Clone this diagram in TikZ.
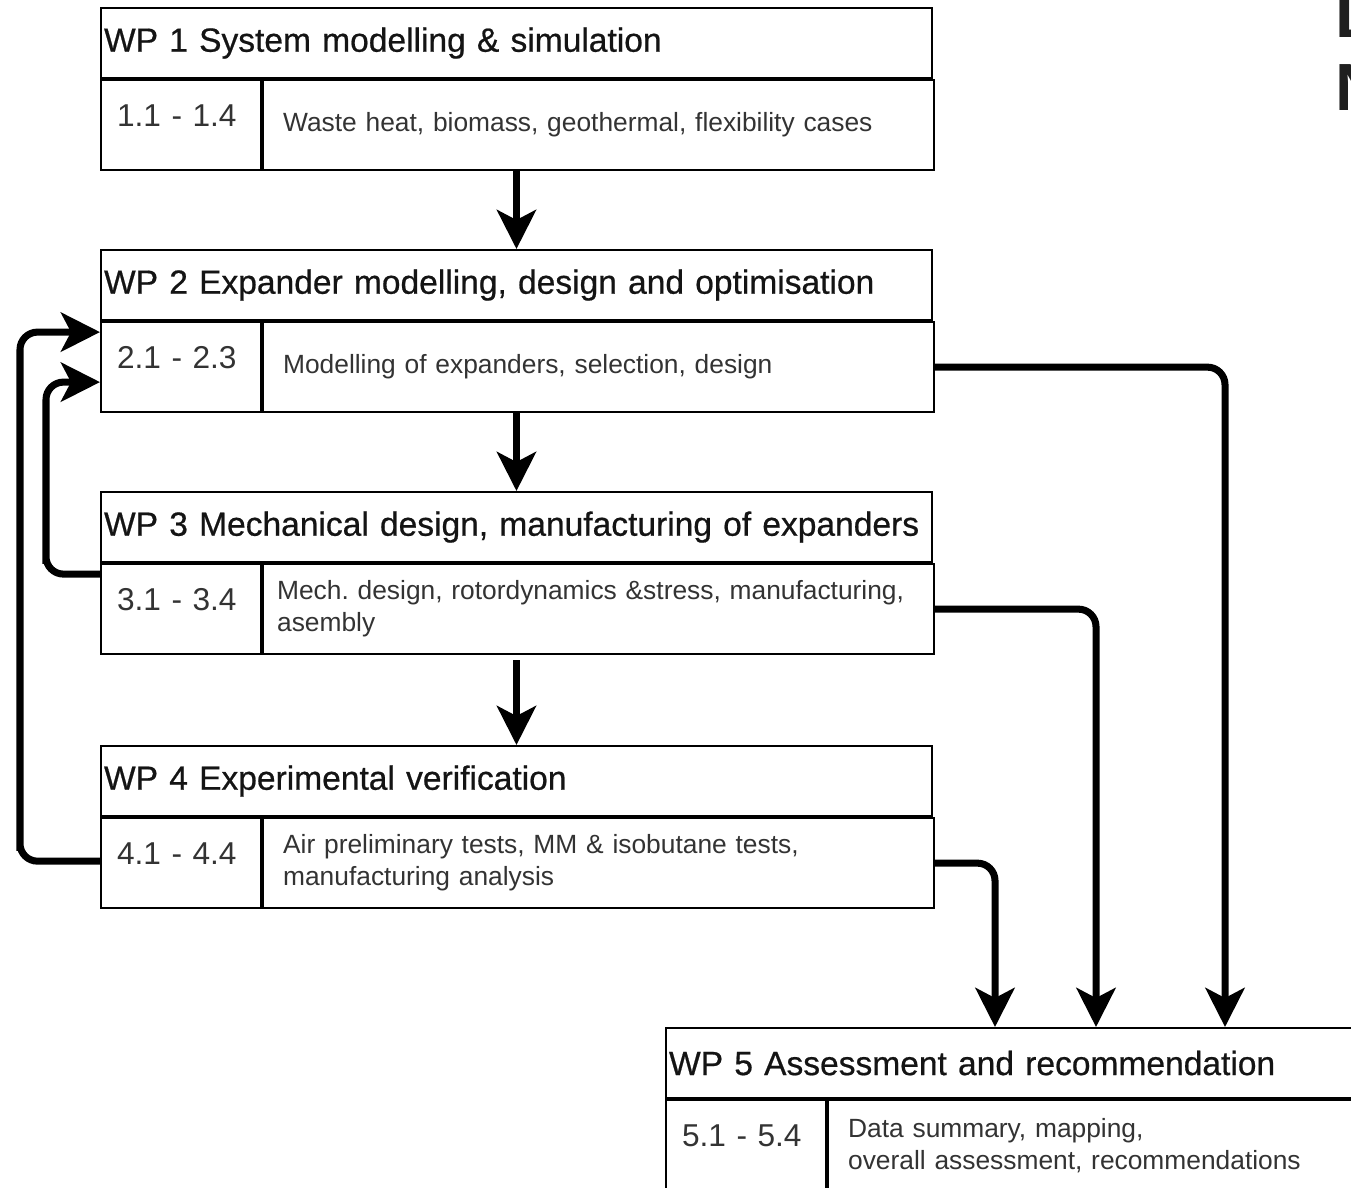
\documentclass[tikz,border=0pt]{standalone}
\usepackage{fontspec}
\setmainfont{Liberation Sans}
\newfontfamily\headfont[FakeBold=0.6]{Liberation Sans}
\usetikzlibrary{arrows.meta,calc,positioning}

\tikzset{
  wphead/.style={draw, line width=1.2pt, anchor=north west, minimum width=16.62cm,
    minimum height=1.4cm, inner xsep=0.06cm, text width=16.5cm, align=left,
    font=\headfont\fontsize{19.1}{22}\selectfont, text=black!92},
  wpnum/.style={draw, line width=1.2pt, anchor=north west, minimum width=3.2cm,
    minimum height=1.8cm, inner xsep=0.32cm, text width=2.56cm, align=left,
    text height=0.44cm, text depth=0.4cm,
    font=\fontsize{18}{22}\selectfont, text=black!80},
  wpdesc/.style={draw, line width=1.2pt, anchor=north west, minimum width=13.42cm,
    minimum height=1.8cm, inner xsep=0.4cm, text width=12.62cm, align=left,
    font=\fontsize{15}{18.2}\selectfont\frenchspacing, text=black!80},
  flow/.style={line width=4pt, rounded corners=0.35cm,
    -{Stealth[length=0.78cm,width=0.78cm,inset=0.2cm]}},
}

\begin{document}
\begin{tikzpicture}[x=0.02cm, y=-0.02cm]
        \clip (0,0) rectangle (1351,1187);
        \fill[white] (0,0) rectangle (1351,1187);

        % work packages
        \node[wphead] (wp1) at (100,7) {WP 1 System modelling \& simulation};
        \node[wpnum] (wp1n) at (wp1.south west) {1.1 - 1.4};
        \node[wpdesc] (wp1d) at (wp1n.north east) {Waste heat, biomass, geothermal, flexibility cases};

        \node[wphead] (wp2) at (100,249) {WP 2 Expander modelling, design and optimisation};
        \node[wpnum] (wp2n) at (wp2.south west) {2.1 - 2.3};
        \node[wpdesc] (wp2d) at (wp2n.north east) {Modelling of expanders, selection, design};

        \node[wphead] (wp3) at (100,491) {\mbox{WP 3 Mechanical design, manufacturing of expanders}};
        \node[wpnum] (wp3n) at (wp3.south west) {3.1 - 3.4};
        \node[wpdesc, inner xsep=0.28cm, text width=12.86cm] (wp3d) at (wp3n.north east) {Mech. design, rotordynamics \&stress, manufacturing,\\asembly};

        \node[wphead] (wp4) at (100,745) {WP 4 Experimental verification};
        \node[wpnum] (wp4n) at (wp4.south west) {4.1 - 4.4};
        \node[wpdesc] (wp4d) at (wp4n.north east) {Air preliminary tests, MM \& isobutane tests,\\manufacturing analysis};

        \node[wphead] (wp5) at (665,1027) {WP 5 Assessment and recommendation};
        \node[wpnum] (wp5n) at (wp5.south west) {5.1 - 5.4};
        \node[wpdesc] (wp5d) at (wp5n.north east) {Data summary, mapping,\\overall assessment, recommendations};

        % title, cut off at the right edge
        \node[anchor=base west, inner sep=0, font=\fontsize{38}{41}\selectfont\bfseries, text=black!88] (ttl1) at (1335,37) {L};
        \node[anchor=base west, inner sep=0, font=\fontsize{38}{41}\selectfont\bfseries, text=black!88] (ttl2) at (1335,110) {N};

        % main chain
        \draw[flow] (wp1d.south -| wp1.south) -- (wp2.north);
        \draw[flow] (wp2d.south -| wp2.south) -- (wp3.north);
        \draw[flow, shorten <=3pt] (wp3d.south -| wp3.south) -- (wp4.north);

        % into WP 5
        \draw[flow] (wp2d.east) -| ($(wp5.north west)+(560,0)$);
        \draw[flow] (wp3d.east) -| ($(wp5.north west)+(431,0)$);
        \draw[flow] (wp4d.east) -| ($(wp5.north west)+(330,0)$);

        % feedback to WP 2
        \draw[flow] ($(wp4n.west)+(0,-2)$) -| ++(-80,0) |- ($(wp2n.north west)+(0,11)$);
        \draw[flow] ($(wp3n.north west)+(0,11)$) -| ++(-54,0) |- ($(wp2n.north west)+(0,61)$);
\end{tikzpicture}
\end{document}
